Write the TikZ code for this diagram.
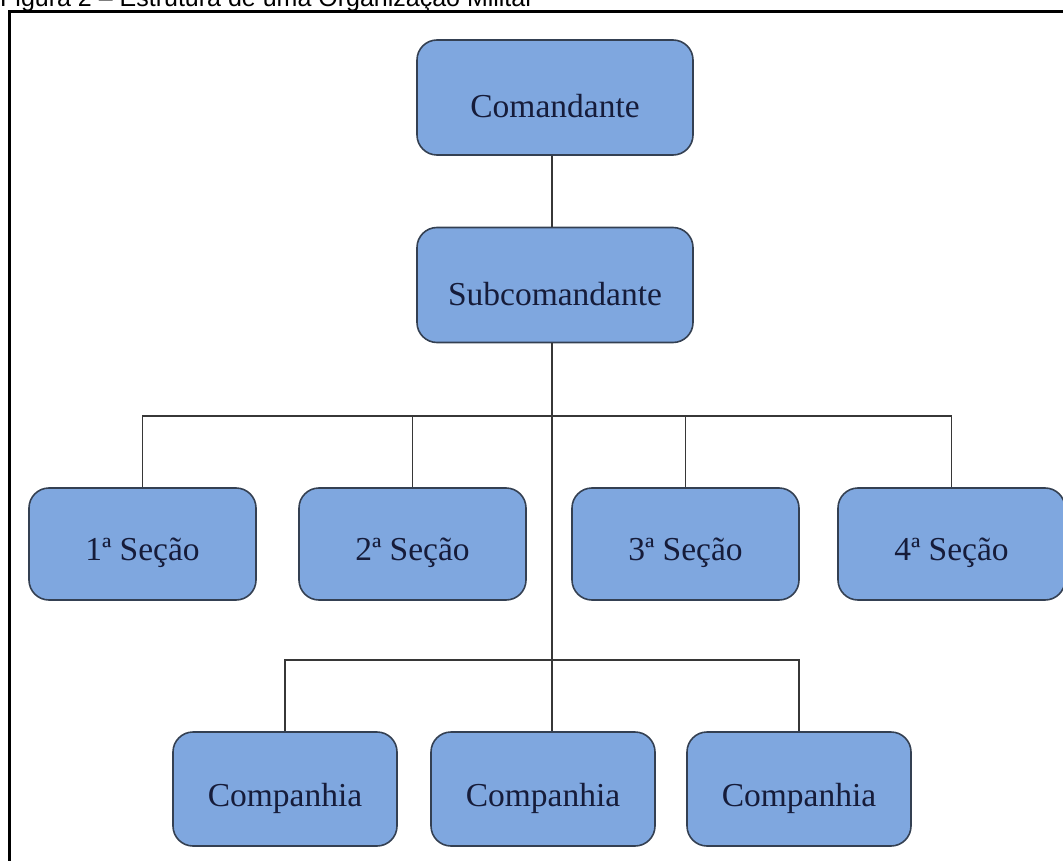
\documentclass[tikz,border=0pt]{standalone}
\usepackage{fontspec}
\setmainfont{Liberation Serif}
\newfontfamily\titlefont{Liberation Sans}
% unit names sit a little below the middle of their boxes
\newcommand{\boxlabel}[1]{\raisebox{-9pt}[\height][\depth]{#1}}
\begin{document}
\begin{tikzpicture}[x=1pt,y=-1pt,
  unitbox/.style={draw=boxline, line width=1.6pt, fill=boxfill, rounded corners=20pt,
    text=boxtext, font=\fontsize{33.5}{36}\selectfont, inner sep=0pt},
  topbox/.style={unitbox, minimum width=276pt, minimum height=115pt},
  secbox/.style={unitbox, minimum width=227pt, minimum height=112pt},
  compbox/.style={unitbox, minimum width=224pt, minimum height=114pt},
  link/.style={draw=linkgray, line width=1.6pt}]
\definecolor{boxfill}{RGB}{127,167,223}
\definecolor{boxline}{RGB}{52,64,82}
\definecolor{boxtext}{RGB}{22,28,58}
\definecolor{linkgray}{RGB}{55,55,55}

\useasboundingbox (0,0) rectangle (1063,861);

% caption and frame
\node[anchor=base west, inner sep=0pt, font=\titlefont\fontsize{25}{28}\selectfont] (title) at (0,7)
  {Figura 2 – Estrutura de uma Organização Militar};
\draw[line width=3pt] (1064,12) -- (9.5,12) -- (9.5,863);

% command levels
\node[topbox] (cmd) at (555,97.5) {\boxlabel{Comandante}};
\node[topbox] (sub) at (555,285) {\boxlabel{Subcomandante}};

% sections
\node[secbox] (s1) at (142.5,544) {\boxlabel{1ª Seção}};
\node[secbox] (s2) at (412.5,544) {\boxlabel{2ª Seção}};
\node[secbox] (s3) at (685.5,544) {\boxlabel{3ª Seção}};
\node[secbox] (s4) at (951.5,544) {\boxlabel{4ª Seção}};

% companies
\node[compbox] (c1) at (285,789) {\boxlabel{Companhia}};
\node[compbox] (c2) at (543,789) {\boxlabel{Companhia}};
\node[compbox] (c3) at (799,789) {\boxlabel{Companhia}};

% bus points on the main trunk
\coordinate (trunk) at (552,0);
\coordinate (secbus) at (552,416);
\coordinate (compbus) at (552,660);

% connectors
\draw[link] (cmd.south -| trunk) -- (sub.north -| trunk);
\draw[link] (sub.south -| trunk) -- (secbus) -- (compbus) -- (c2.north -| trunk);
\draw[link] (s1.north) |- (secbus) -| (s4.north);
\draw[link] (s2.north) -- (s2.north |- secbus);
\draw[link] (s3.north) -- (s3.north |- secbus);
\draw[link] (c1.north) |- (compbus) -| (c3.north);
\end{tikzpicture}
\end{document}
